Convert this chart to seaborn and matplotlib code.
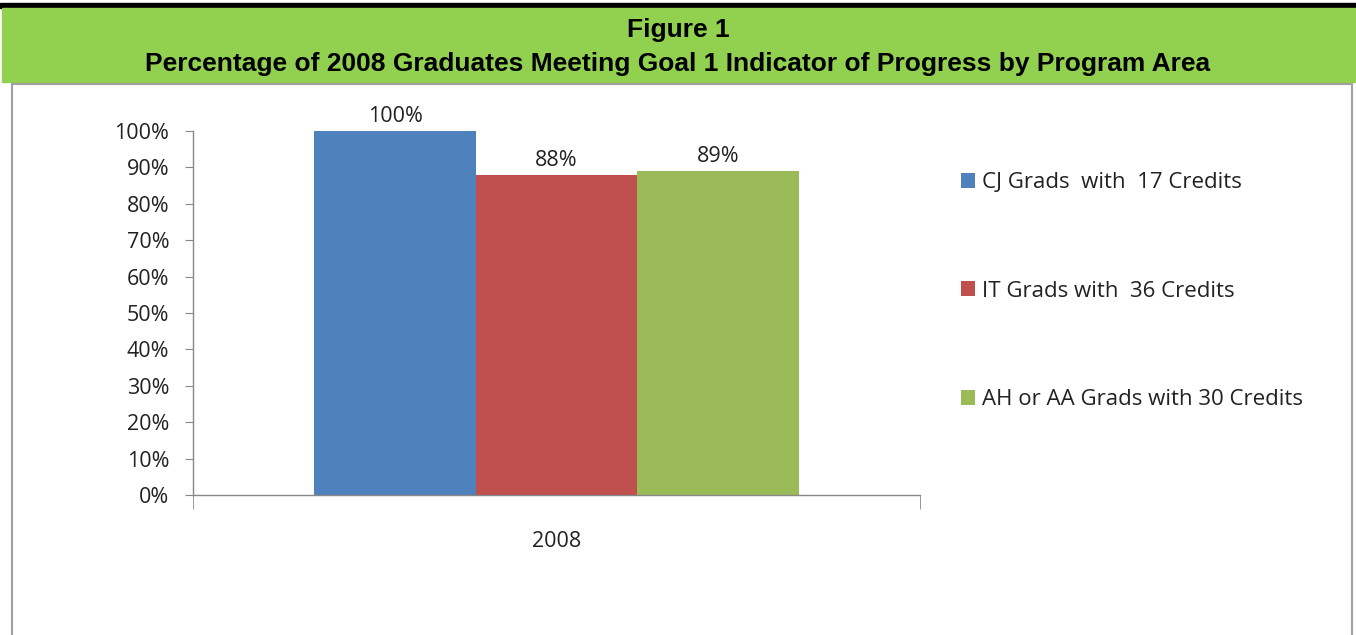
import matplotlib
matplotlib.use('Agg')
import matplotlib.pyplot as plt
from matplotlib.patches import Rectangle
import pandas as pd
import seaborn as sns

# Data
years = ['2008']
series = ['CJ Grads  with  17 Credits', 'IT Grads with  36 Credits', 'AH or AA Grads with 30 Credits']
values = [100, 88, 89]
colors = ['#4F81BD', '#C0504D', '#9BBB59']

data = pd.DataFrame({'year': years * 3, 'series': series, 'pct': values})

sns.set_style('white')
plt.rcParams['font.family'] = ['Open Sans', 'DejaVu Sans']
FS = 15.5

fig = plt.figure(figsize=(13.56, 6.35), dpi=100)
W, H = 1356, 635

# header band and chart frame
fig.patches.append(Rectangle((0, 1 - 8 / H), 1, 5 / H, transform=fig.transFigure, color='black', zorder=-2))
fig.patches.append(Rectangle((2 / W, 1 - 82 / H), 1, 74 / H, transform=fig.transFigure, color='#92D050', zorder=-2))
fig.patches.append(Rectangle((12 / W, -0.01), 1340 / W, 1 - 84 / H + 0.01, transform=fig.transFigure,
                             facecolor='none', edgecolor='#A0A0A0', lw=1.5, zorder=-1))
title_font = ['Liberation Sans', 'DejaVu Sans']
fig.text(0.5, 1 - 30 / H, 'Figure 1', ha='center', va='center', fontsize=19, fontweight='bold',
         family=title_font, color='black')
fig.text(0.5, 1 - 64 / H, 'Percentage of 2008 Graduates Meeting Goal 1 Indicator of Progress by Program Area',
         ha='center', va='center', fontsize=19, fontweight='bold', family=title_font, color='black')

ax = fig.add_axes([193 / W, 140 / H, 727 / W, 364 / H])
ax.patch.set_alpha(0)
sns.barplot(data=data, x='year', y='pct', hue='series', palette=colors, width=0.666,
            saturation=1, linewidth=0, ax=ax, legend=True)

for cont, v in zip(ax.containers, values):
    ax.bar_label(cont, labels=[f'{v}%'], padding=3, fontsize=FS, color='#222222')

ax.set_ylim(0, 100)
ax.set_xlim(-0.5, 0.5)
ax.set_yticks(range(0, 101, 10))
ax.set_yticklabels([f'{t}%' for t in range(0, 101, 10)], fontsize=FS, color='#222222')
ax.set_xticks([0])
ax.set_xticklabels(years, fontsize=FS, color='#222222')
ax.set_xticks([-0.5, 0.5], minor=True)
ax.tick_params(axis='x', which='major', length=0, pad=26)
ax.tick_params(axis='x', which='minor', length=10, color='#888888', direction='out', bottom=True)
ax.tick_params(axis='y', length=6, color='#888888', direction='out', left=True, pad=11)
ax.set_xlabel('')
ax.set_ylabel('')
for s in ['top', 'right']:
    ax.spines[s].set_visible(False)
for s in ['left', 'bottom']:
    ax.spines[s].set_color('#888888')
    ax.spines[s].set_linewidth(1)

leg = ax.legend(loc='upper left', bbox_to_anchor=(952 / W, 1 - 163 / H), bbox_transform=fig.transFigure,
                frameon=False, fontsize=16, handlelength=0.65, handleheight=0.65, handletextpad=0.3,
                labelspacing=3.95, borderaxespad=0)
for t in leg.get_texts():
    t.set_color('#222222')

fig.savefig('out.png', dpi=100)
